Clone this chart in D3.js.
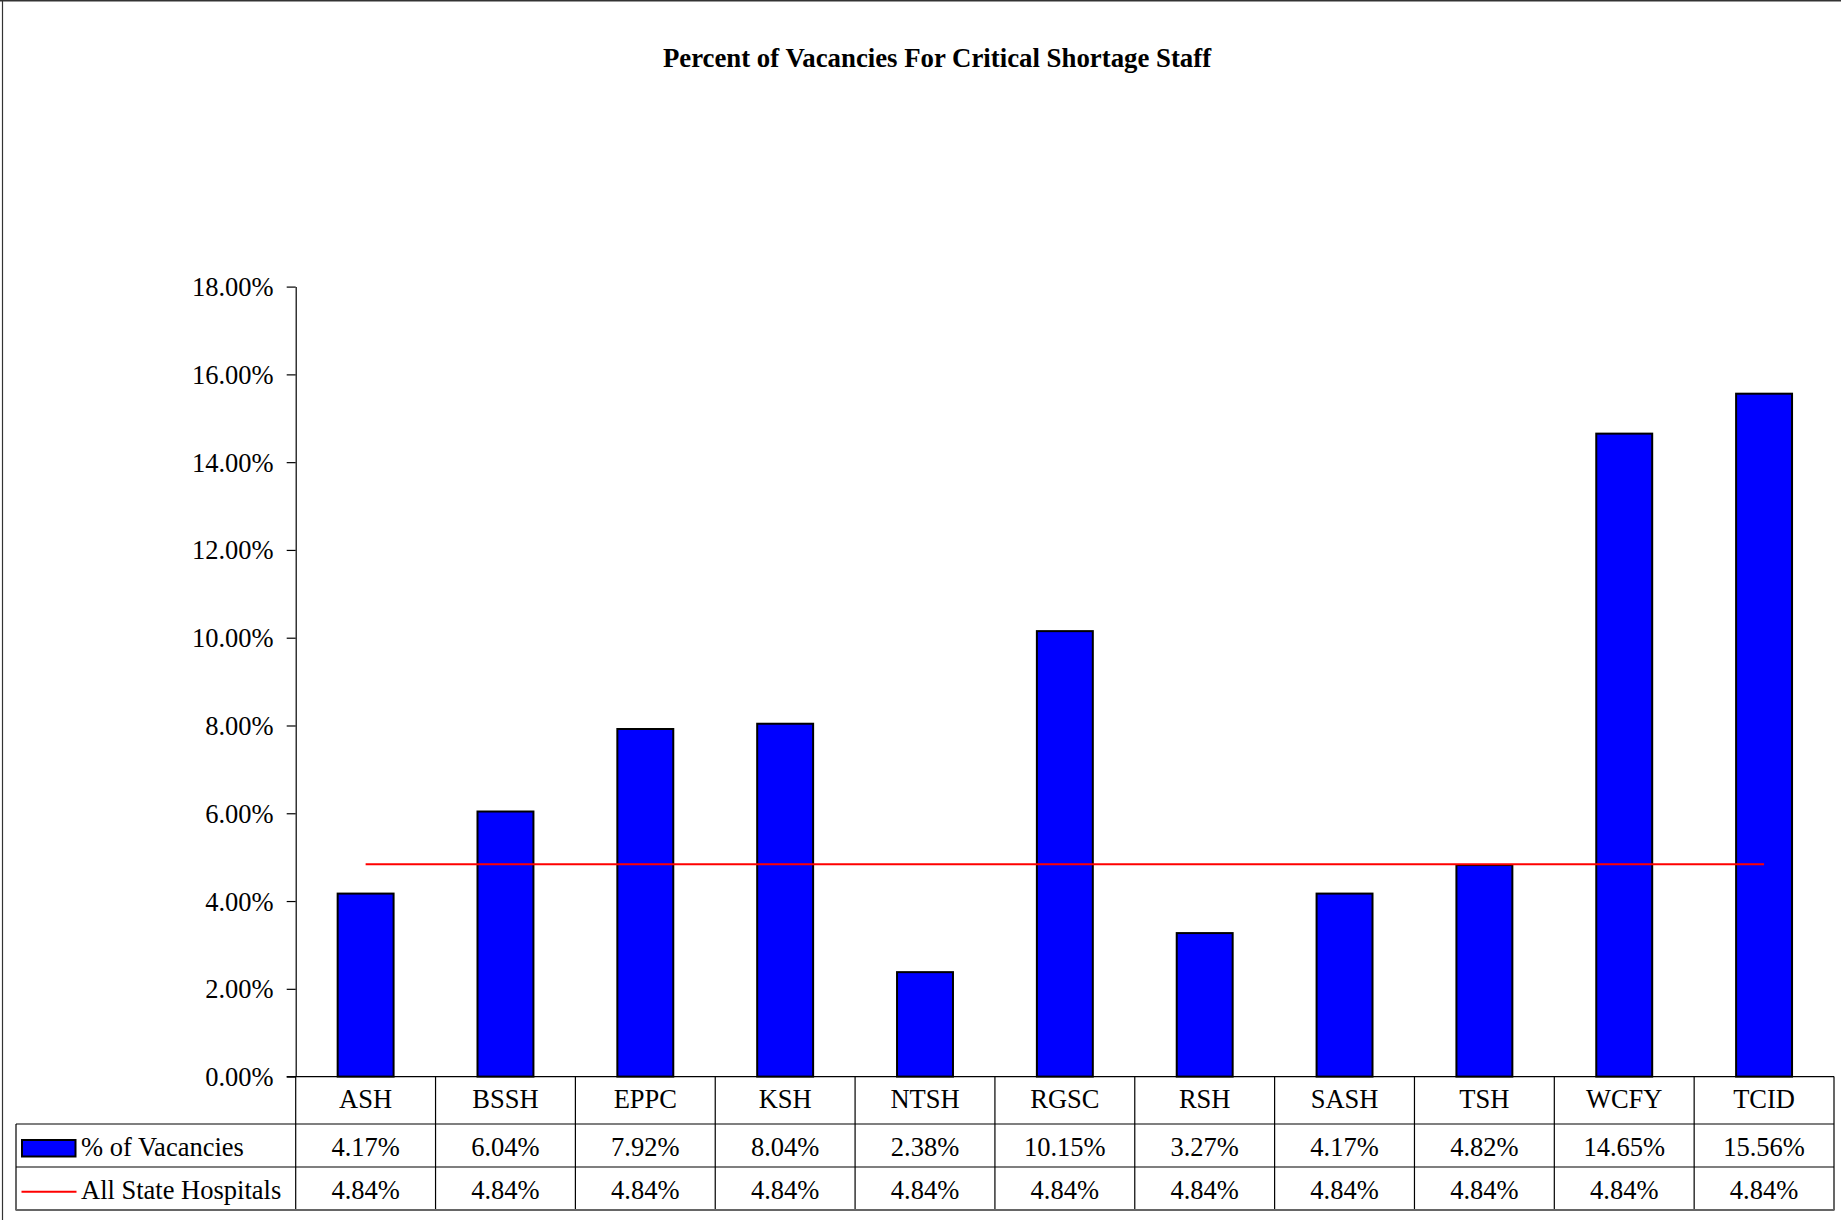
<!DOCTYPE html>
<html>
<head>
<meta charset="utf-8">
<script src="https://cdn.jsdelivr.net/npm/d3@7"></script>
<style>
  html, body { margin: 0; padding: 0; background: #fff; }
  svg { display: block; }
  svg text { font-family: "Liberation Serif", "Times New Roman", serif; }
</style>
</head>
<body>
<svg id="chart" width="1841" height="1220"></svg>
<script>
const categories = ["ASH", "BSSH", "EPPC", "KSH", "NTSH", "RGSC", "RSH", "SASH", "TSH", "WCFY", "TCID"];
const vacancies = [4.17, 6.04, 7.92, 8.04, 2.38, 10.15, 3.27, 4.17, 4.82, 14.65, 15.56];
const allState = [4.84, 4.84, 4.84, 4.84, 4.84, 4.84, 4.84, 4.84, 4.84, 4.84, 4.84];
const yTicks = [0, 2, 4, 6, 8, 10, 12, 14, 16, 18];
const title = "Percent of Vacancies For Critical Shortage Staff";
const seriesNames = ["% of Vacancies", "All State Hospitals"];

const FONT = "Liberation Serif";
const svg = d3.select("#chart");
const plotLeft = 295.7, plotRight = 1834, plotTop = 286.6, plotBottom = 1076.6;
const tableLeft = 16, row1 = 1124, row2 = 1167, tableBottom = 1210;

// outer frame (top and left)
svg.append("line").attr("x1", 0).attr("x2", 1841).attr("y1", 0.8).attr("y2", 0.8)
  .attr("stroke", "#333").attr("stroke-width", 1.6);
svg.append("line").attr("x1", 2.5).attr("x2", 2.5).attr("y1", 0).attr("y2", 1220)
  .attr("stroke", "#333").attr("stroke-width", 1.2);

// title
svg.append("text").attr("x", 937).attr("y", 66.5).attr("text-anchor", "middle")
  .attr("font-family", FONT).attr("font-size", 26.8).attr("font-weight", "bold").attr("fill", "#000").text(title);

const x = d3.scaleBand().domain(categories).range([plotLeft, plotRight]).paddingInner(0).paddingOuter(0);
const y = d3.scaleLinear().domain([0, 18]).range([plotBottom, plotTop]);

// y axis
const yAxis = d3.axisLeft(y).tickValues(yTicks).tickSize(9).tickSizeOuter(0)
  .tickFormat(d => d3.format(".2f")(d) + "%");
const gy = svg.append("g").attr("transform", `translate(${plotLeft},0)`).call(yAxis)
  .attr("font-family", FONT).attr("font-size", 26.5);
gy.select(".domain").attr("stroke", "#000").attr("stroke-width", 1.2);
gy.selectAll(".tick line").attr("stroke", "#000").attr("stroke-width", 1.2);
gy.selectAll(".tick text").attr("fill", "#000").attr("x", -22).attr("dy", "0.34em");

// bars
const bw = x.bandwidth() * 0.4;
svg.append("g").selectAll("rect").data(categories).join("rect")
  .attr("x", d => x(d) + (x.bandwidth() - bw) / 2)
  .attr("y", (d, i) => y(vacancies[i]))
  .attr("width", bw)
  .attr("height", (d, i) => y(0) - y(vacancies[i]))
  .attr("fill", "#0000FF").attr("stroke", "#000").attr("stroke-width", 2);

// line series
const line = d3.line().x((d, i) => x(categories[i]) + x.bandwidth() / 2).y(d => y(d));
svg.append("path").datum(allState).attr("d", line)
  .attr("fill", "none").attr("stroke", "#FF0000").attr("stroke-width", 2);

// x axis line (category row top)
svg.append("line").attr("x1", plotLeft - 9).attr("x2", plotRight).attr("y1", plotBottom).attr("y2", plotBottom)
  .attr("stroke", "#000").attr("stroke-width", 1.2);

// data table grid
const grid = svg.append("g").attr("stroke", "#000").attr("stroke-width", 1.2);
const bounds = categories.map(c => x(c)).concat([plotRight]);
bounds.forEach(bx => {
  grid.append("line").attr("x1", bx).attr("x2", bx).attr("y1", plotBottom).attr("y2", tableBottom);
});
grid.append("line").attr("x1", tableLeft).attr("x2", plotRight).attr("y1", row1).attr("y2", row1);
grid.append("line").attr("x1", tableLeft).attr("x2", plotRight).attr("y1", row2).attr("y2", row2);
grid.append("line").attr("x1", tableLeft).attr("x2", tableLeft).attr("y1", row1).attr("y2", tableBottom);
svg.append("line").attr("x1", tableLeft - 0.5).attr("x2", plotRight + 0.5).attr("y1", tableBottom).attr("y2", tableBottom)
  .attr("stroke", "#666").attr("stroke-width", 2);

// table texts
const tt = svg.append("g").attr("font-family", FONT).attr("font-size", 26.5).attr("fill", "#000").attr("text-anchor", "middle");
categories.forEach((c, i) => {
  const cx = x(c) + x.bandwidth() / 2;
  tt.append("text").attr("x", cx).attr("y", 1107.5).text(c);
  tt.append("text").attr("x", cx).attr("y", 1156).text(d3.format(".2f")(vacancies[i]) + "%");
  tt.append("text").attr("x", cx).attr("y", 1198.5).text(d3.format(".2f")(allState[i]) + "%");
});

// legend keys
svg.append("rect").attr("x", 22).attr("y", 1140).attr("width", 53.5).attr("height", 16.5)
  .attr("fill", "#0000FF").attr("stroke", "#000").attr("stroke-width", 2);
svg.append("line").attr("x1", 21.5).attr("x2", 76.5).attr("y1", 1191.7).attr("y2", 1191.7)
  .attr("stroke", "#FF0000").attr("stroke-width", 2);
const lg = svg.append("g").attr("font-family", FONT).attr("font-size", 26.5).attr("fill", "#000");
lg.append("text").attr("x", 81).attr("y", 1156).text(seriesNames[0]);
lg.append("text").attr("x", 81).attr("y", 1198.5).text(seriesNames[1]);
</script>
</body>
</html>
